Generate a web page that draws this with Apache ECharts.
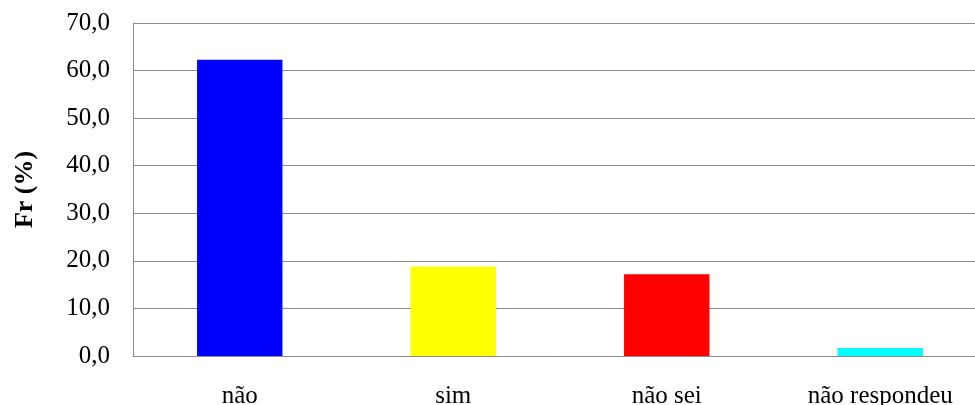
<!DOCTYPE html>
<html>
<head>
<meta charset="utf-8">
<script src="https://cdn.jsdelivr.net/npm/echarts@6/dist/echarts.min.js"></script>
<style>
  html, body { margin: 0; padding: 0; background: #fff; }
  #chart { width: 975px; height: 405px; }
</style>
</head>
<body>
<div id="chart"></div>
<script>
// Response categories and their relative frequencies (%)
const categories = ['não', 'sim', 'não sei', 'não respondeu'];
const values = [62.3, 18.8, 17.2, 1.7];
const barColors = ['#0000ff', '#ffff00', '#ff0000', '#00ffff'];
const yTicks = [0, 10, 20, 30, 40, 50, 60, 70];

const font = '"Liberation Serif", "Times New Roman", serif';

const chart = echarts.init(document.getElementById('chart'), null, { renderer: 'canvas' });
chart.setOption({
  animation: false,
  grid: {
    left: 133, top: 23, width: 854, height: 333,
    containLabel: false, outerBoundsMode: 'none'
  },
  xAxis: {
    type: 'category',
    data: categories,
    axisLine: { show: true, lineStyle: { color: '#8c8c8c', width: 1 } },
    axisTick: { show: false },
    axisLabel: { color: '#000', fontFamily: font, fontSize: 25, margin: 28 }
  },
  yAxis: {
    type: 'value',
    min: yTicks[0],
    max: yTicks[yTicks.length - 1],
    interval: 10,
    name: 'Fr (%)',
    nameLocation: 'middle',
    nameGap: 95,
    nameRotate: 90,
    nameTextStyle: { color: '#000', fontFamily: font, fontSize: 26, fontWeight: 'bold' },
    axisLine: { show: true, lineStyle: { color: '#8c8c8c', width: 1 } },
    axisTick: { show: false },
    splitLine: { show: true, lineStyle: { color: '#8c8c8c', width: 1 } },
    axisLabel: {
      color: '#000', fontFamily: font, fontSize: 25, margin: 23,
      formatter: v => v.toFixed(1).replace('.', ',')
    }
  },
  series: [{
    type: 'bar',
    barWidth: '40%',
    data: values.map((v, i) => ({ value: v, itemStyle: { color: barColors[i] } }))
  }]
});
</script>
</body>
</html>
